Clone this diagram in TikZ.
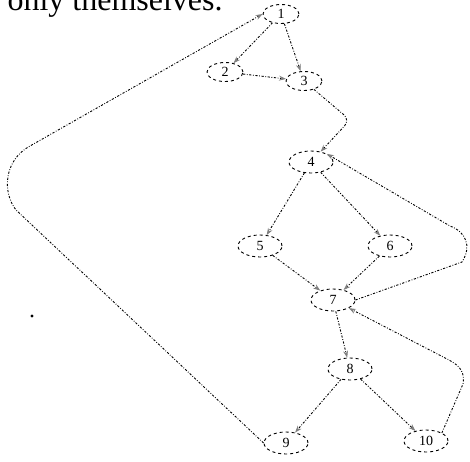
\documentclass[tikz,border=0pt]{standalone}
\usepackage{fontspec}
\setmainfont{Liberation Serif}
\usetikzlibrary{arrows.meta,shapes.geometric}
\begin{document}
\begin{tikzpicture}[x=1pt,y=-1pt,
  vtx/.style={ellipse,draw=black,dashed,line width=0.9pt,minimum width=44pt,minimum height=22pt,inner sep=0pt,font=\fontsize{14}{14}\selectfont,text=black},
  vsm/.style={vtx,minimum width=36pt,minimum height=19pt},
  edge/.style={draw=black,line width=0.9pt,dash pattern=on 2.2pt off 1.6pt on 0.8pt off 1.6pt,
    -{Stealth[length=7pt,width=5pt,color=black!50,fill=black!50]}},
]
\useasboundingbox (0,0) rectangle (470,461);
\clip (0,0) rectangle (470,461);
\node[anchor=base west,font=\fontsize{32}{32}\selectfont] (txt) at (4,10) {only themselves.};
\node[vsm] (n1) at (281,14) {1};
\node[vsm] (n2) at (225,72) {2};
\node[vsm] (n3) at (304,81) {3};
\node[vtx] (n4) at (311,162) {4};
\node[vtx] (n5) at (260,246) {5};
\node[vtx] (n6) at (390,246) {6};
\node[vtx] (n7) at (333,300) {7};
\node[vtx] (n8) at (350,369) {8};
\node[vtx] (n9) at (286,443) {9};
\node[vtx] (n10) at (426,441) {10};
\coordinate (c1) at (350,120);
\fill[black] (32,316) circle (1.6pt);
\draw[edge] (n1) -- (n2);
\draw[edge] (n1) -- (n3);
\draw[edge] (n2) -- (n3);
\draw[edge,rounded corners=8pt] (n3) -- (c1) -- (n4);
\draw[edge] (n4) -- (n5);
\draw[edge] (n4) -- (n6);
\draw[edge] (n5) -- (n7);
\draw[edge] (n6) -- (n7);
\draw[edge] (n7) -- (n8);
\draw[edge] (n8) -- (n9);
\draw[edge] (n8) -- (n10);
\draw[edge] (n7.east) -- (462,262) .. controls (472,246) and (466,232) .. (450,226) -- (n4.north east);
\draw[edge] (n10.north east) -- (463,384) .. controls (465,372) and (460,366) .. (449,360) -- (n7.south east);
\draw[edge] (n9.west) -- (16,210) .. controls (2,192) and (4,160) .. (30,146) -- (n1.west);
\end{tikzpicture}
\end{document}
